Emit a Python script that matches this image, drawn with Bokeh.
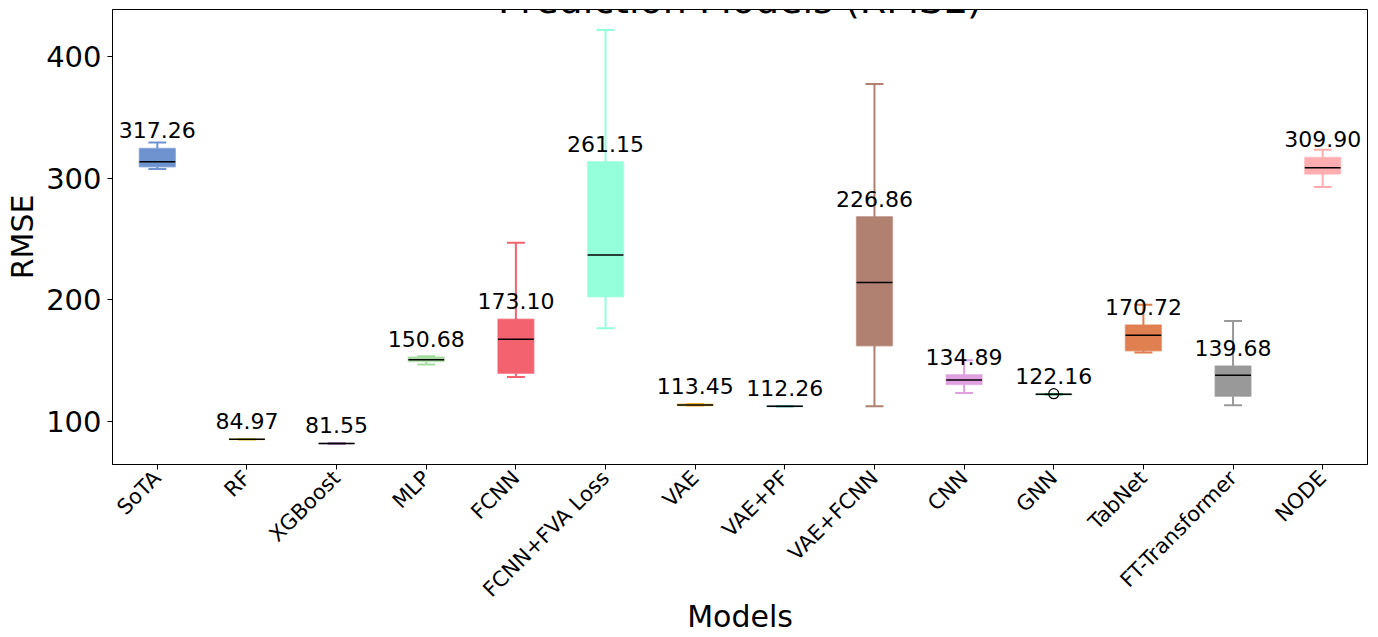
import math
import numpy as np
from bokeh.plotting import figure
from bokeh.models import Range1d, Label
from bokeh.core.properties import value
from bokeh.embed import file_html
from bokeh.resources import INLINE

# ---------------- data ----------------
models = ["SoTA", "RF", "XGBoost", "MLP", "FCNN", "FCNN+FVA Loss", "VAE", "VAE+PF",
          "VAE+FCNN", "CNN", "GNN", "TabNet", "FT-Transformer", "NODE"]
means = [317.26, 84.97, 81.55, 150.68, 173.10, 261.15, 113.45, 112.26,
         226.86, 134.89, 122.16, 170.72, 139.68, 309.90]
whisker_low = [307.7, 84.8, 81.4, 146.6, 136.4, 176.6, 112.8, 112.0,
               112.3, 123.3, 121.9, 156.5, 113.1, 292.8]
q1 = [309.6, 84.9, 81.5, 149.1, 139.5, 202.4, 113.0, 112.1,
      162.2, 130.1, 122.0, 157.9, 120.5, 303.5]
medians = [313.7, 85.0, 81.6, 150.5, 167.5, 236.8, 113.4, 112.3,
           214.2, 134.0, 122.1, 170.8, 137.8, 308.7]
q3 = [324.7, 85.1, 81.7, 152.9, 184.0, 313.7, 113.9, 112.4,
      268.3, 138.3, 122.2, 179.3, 145.5, 317.2]
whisker_high = [329.6, 85.2, 81.8, 153.5, 246.9, 422.3, 114.2, 112.5,
                377.7, 150.2, 122.3, 195.8, 182.6, 323.6]
outlier_model = ["GNN"]
outlier_value = [122.6]
colors = ["#6e93cf", "#e8c547", "#9470a0", "#a6dca0", "#f2626f", "#95fedb", "#f2b233",
          "#58a7a7", "#b08070", "#e0a0e0", "#25a35f", "#e07f50", "#999999", "#ffadb0"]
y_ticks = [100, 200, 300, 400]
title_text = "Prediction Models (RMSE)"

FONT = "DejaVu Sans"
Y0, Y1 = 64.3, 439.1
FRAME_H = 455
px_per_unit = FRAME_H / (Y1 - Y0)
pos = np.arange(1, len(models) + 1)
box_half = 0.2
cap_half = 0.1

p = figure(width=1378, height=637, title=None,
           x_range=Range1d(0.5, 14.5), y_range=Range1d(Y0, Y1),
           output_backend="svg", toolbar_location=None,
           min_border_left=112, min_border_right=11, min_border_top=9, min_border_bottom=173)

p.grid.visible = False
p.outline_line_color = "black"
p.outline_line_width = 1
p.background_fill_color = "white"
p.border_fill_color = "white"

# whiskers
p.segment(x0=pos, y0=q3, x1=pos, y1=whisker_high, line_color=colors, line_width=2)
p.segment(x0=pos, y0=q1, x1=pos, y1=whisker_low, line_color=colors, line_width=2)
# caps
p.segment(x0=pos - cap_half, y0=whisker_high, x1=pos + cap_half, y1=whisker_high,
          line_color=colors, line_width=2)
p.segment(x0=pos - cap_half, y0=whisker_low, x1=pos + cap_half, y1=whisker_low,
          line_color=colors, line_width=2)
# boxes
p.quad(left=pos - box_half, right=pos + box_half, bottom=q1, top=q3,
       fill_color=colors, fill_alpha=1.0, line_color=colors, line_alpha=0.6, line_width=1.5)
# medians
p.segment(x0=pos - box_half, y0=medians, x1=pos + box_half, y1=medians,
          line_color="black", line_width=1.5)
# outliers
out_x = [models.index(m) + 1 for m in outlier_model]
p.scatter(x=out_x, y=outlier_value, marker="circle", size=10, fill_color=None,
          line_color="black", line_width=1.2)

# mean labels, glyphs about 10 px above the upper quartile
label_y = np.array(q3) + 18 / px_per_unit
p.text(x=pos, y=label_y, text=[f"{m:.2f}" for m in means], text_align="center",
       text_baseline="alphabetic", text_font=value(FONT),
       text_font_size="22px", text_color="black")

# title: only its lower edge shows at the top of the picture, as in the reference
p.add_layout(Label(x=7.5, y=Y1 + 10 / px_per_unit, text=title_text, text_align="center",
                   text_baseline="alphabetic", text_font=FONT,
                   text_font_size="38px", text_color="black"))

# axes
for ax in (p.xaxis[0], p.yaxis[0]):
    ax.axis_line_color = "black"
    ax.axis_line_width = 1
    ax.major_tick_line_color = "black"
    ax.major_tick_out = 5
    ax.major_tick_in = 0
    ax.minor_tick_line_color = None
    ax.major_label_text_font = FONT
    ax.major_label_text_color = "black"
    ax.axis_label_text_font = FONT
    ax.axis_label_text_font_style = "normal"
    ax.axis_label_text_color = "black"
    ax.axis_label_text_font_size = "30px"

p.yaxis.ticker = y_ticks
p.yaxis.major_label_text_font_size = "29px"
p.yaxis.major_label_standoff = 6
p.yaxis.axis_label = "RMSE"
p.yaxis.axis_label_standoff = 3

p.xaxis.ticker = list(pos)
p.xaxis.major_label_overrides = {int(i): m for i, m in zip(pos, models)}
p.xaxis.major_label_orientation = math.pi / 4
p.xaxis.major_label_text_font_size = "21px"
p.xaxis.major_label_standoff = 5
p.xaxis.axis_label = "Models"
p.xaxis.axis_label_standoff = -14

open("out.html", "w").write(file_html(p, INLINE))
